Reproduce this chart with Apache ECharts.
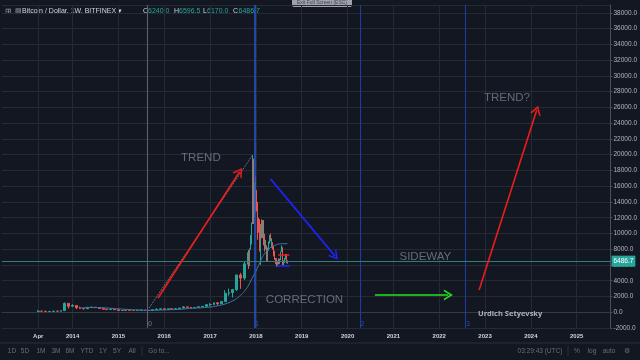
<!DOCTYPE html>
<html><head><meta charset="utf-8">
<script src="https://cdn.jsdelivr.net/npm/echarts@6/dist/echarts.min.js"></script>
<style>html,body{margin:0;padding:0;background:#131722;}#c{width:640px;height:360px;}</style>
</head><body><div id="c"></div>
<script>
// ---- data ----
// monthly candles [date, open, high, low, close]
const monthlyCandles = [
['2013-04-01',104,266,50,139],['2013-05-01',139,140,79,129],['2013-06-01',129,130,88,97],
['2013-07-01',97,110,65,106],['2013-08-01',106,140,100,141],['2013-09-01',141,145,110,133],
['2013-10-01',133,210,105,204],['2013-11-01',204,1240,200,1130],['2013-12-01',1130,1160,450,750],
['2014-01-01',750,1030,740,860],['2014-02-01',860,890,400,570],['2014-03-01',570,710,440,460],
['2014-04-01',460,550,340,445],['2014-05-01',445,630,420,630],['2014-06-01',630,680,550,640],
['2014-07-01',640,650,570,585],['2014-08-01',585,600,440,480],['2014-09-01',480,500,360,385],
['2014-10-01',385,415,275,338],['2014-11-01',338,450,320,375],['2014-12-01',375,385,310,318],
['2015-01-01',318,320,165,220],['2015-02-01',220,265,210,254],['2015-03-01',254,300,240,245],
['2015-04-01',245,260,215,236],['2015-05-01',236,247,225,230],['2015-06-01',230,267,218,263],
['2015-07-01',263,315,255,284],['2015-08-01',284,285,198,230],['2015-09-01',230,245,225,236],
['2015-10-01',236,330,236,314],['2015-11-01',314,500,300,377],['2015-12-01',377,465,350,430],
['2016-01-01',430,460,355,370],['2016-02-01',370,445,365,437],['2016-03-01',437,440,390,416],
['2016-04-01',416,465,410,450],['2016-05-01',450,550,440,530],['2016-06-01',530,780,530,675],
['2016-07-01',675,700,600,620],['2016-08-01',620,630,470,575],['2016-09-01',575,625,570,610],
['2016-10-01',610,720,600,700],['2016-11-01',700,760,690,745],['2016-12-01',745,975,745,965],
['2017-01-01',965,1150,750,970],['2017-02-01',970,1210,920,1190],['2017-03-01',1190,1300,890,1080],
['2017-04-01',1080,1400,1060,1350],['2017-05-01',1350,2800,1350,2400],['2017-06-01',2400,3000,2100,2500],
['2017-07-01',2500,2950,1850,2870],['2017-08-01',2870,4700,2700,4735],['2017-09-01',4735,5000,2970,4340],
['2017-10-01',4340,6450,4100,6150]
];
// weekly candles [date, open, high, low, close]
const weeklyCandles = [
['2017-10-30',6150,7600,6050,7380],['2017-11-06',7380,7900,5500,5950],['2017-11-13',5950,8100,5850,8050],
['2017-11-20',8050,9800,7950,9700],['2017-11-27',9700,11400,8600,11300],['2017-12-04',11300,17200,11200,15200],
['2017-12-11',15200,19900,15000,19100],['2017-12-18',19100,19500,11200,13700],['2017-12-25',13700,16500,12000,13900],
['2018-01-01',13900,17250,12800,13600],['2018-01-08',13600,15500,12800,13500],['2018-01-15',13500,14000,9200,11600],
['2018-01-22',11600,12000,10100,11200],['2018-01-29',11200,11800,7700,8200],['2018-02-05',8200,8700,6000,8500],
['2018-02-12',8500,11200,8200,10400],['2018-02-19',10400,11800,9400,9600],['2018-02-26',9600,11700,9400,11500],
['2018-03-05',11500,11700,8500,9500],['2018-03-12',9500,9950,7700,8200],['2018-03-19',8200,9200,8000,8400],
['2018-03-26',8400,8500,6500,6900],['2018-04-02',6900,7500,6400,7000],['2018-04-09',7000,8200,6600,8000],
['2018-04-16',8000,9000,7800,8900],['2018-04-23',8900,9800,8700,9300],['2018-04-30',9300,9990,9000,8700],
['2018-05-07',8700,9400,8200,8700],['2018-05-14',8700,8900,7950,8200],['2018-05-21',8200,8400,7100,7350],
['2018-05-28',7350,7800,7050,7500],['2018-06-04',7500,7780,6650,6700],['2018-06-11',6700,6900,6100,6400],
['2018-06-18',6400,6850,5750,6100],['2018-06-25',6100,6550,5800,6400],['2018-07-02',6400,6850,6100,6300],
['2018-07-09',6300,6800,6100,6700],['2018-07-16',6700,7700,6600,7700],['2018-07-23',7700,8500,7650,8200],
['2018-07-30',8200,8250,7000,7000],['2018-08-06',7000,7150,6000,6300],['2018-08-13',6300,6600,5900,6400],
['2018-08-20',6400,6900,6250,6700],['2018-08-27',6700,7400,6700,7300],['2018-09-03',7300,7400,6200,6240],
['2018-09-10',6240,6596.5,6170,6486.7]
];
// 50-week moving average
const maDates = ['2014-03-01','2014-05-01','2014-07-01','2014-09-01','2014-11-01','2015-01-01','2015-03-01',
'2015-05-01','2015-07-01','2015-09-01','2015-11-01','2016-01-01','2016-03-01','2016-05-01','2016-07-01',
'2016-09-01','2016-11-01','2017-01-01','2017-03-01','2017-05-01','2017-07-01','2017-08-01','2017-09-01',
'2017-10-01','2017-11-01','2017-12-01','2018-01-01','2018-02-01','2018-03-01','2018-04-01','2018-05-01',
'2018-06-01','2018-07-01','2018-08-01','2018-09-10'];
const maValues = [560,590,600,570,500,440,370,310,270,250,255,290,330,370,450,520,580,660,820,1050,1450,
1750,2150,2650,3350,4300,5200,6300,7200,7800,8250,8500,8650,8700,8700];

const lastOHLC = ['6240.0','6596.5','6170.0','6486.7'];
const lastPrice = 6486.7;

const xTickValues = [2013.25,2014,2015,2016,2017,2018,2019,2020,2021,2022,2023,2024,2025];
const xTickLabels = ['Apr','2014','2015','2016','2017','2018','2019','2020','2021','2022','2023','2024','2025'];

// drawn annotations (date, price)
const trendArrow = [['2015-11-13',1808],['2017-08-24',17840]];
const trendDotted = [['2015-09-02',540],['2017-12-06',19960]];
const correctionArrow = [['2018-04-28',16910],['2019-09-23',7140]];
const sidewayArrow = [['2020-08-06',2190],['2022-03-15',2190]];
const nextTrendArrow = [['2022-11-15',2820],['2024-02-17',25670]];
const redMark = [['2018-06-28',7300],['2018-09-24',7300]];
const blueMark = [['2018-06-14',5860],['2018-09-30',5860]];
const cycleLines = [['2015-08-18','0'],['2017-12-20','1'],['2020-04-08','2'],['2022-07-27','3']];
const texts = [
  ['2016-10-19',19580,'TREND'],['2019-01-23',1555,'CORRECTION'],['2021-09-13',7010,'SIDEWAY'],
  ['2023-06-25',27190,'TREND?']
];
const author = ['2023-07-20',-220,'Urdich Setyevsky'];

// ---- helpers ----
function dy(s){
  const p = s.split('-').map(Number);
  const t = Date.UTC(p[0],p[1]-1,p[2]) - Date.UTC(p[0],0,1);
  return p[0] + t/(365.25*86400000);
}
const toCandle = r => [dy(r[0]), r[1], r[4], r[3], r[2]];
const pt = a => ({coord:[dy(a[0]), a[1]]});
const chevron = 'path://M0,10 L5,0 L10,10 L8.4,10 L5,3.2 L1.6,10 Z';
function arrow(a, color, width){
  return [Object.assign(pt(a[0]),{symbol:'none', lineStyle:{color:color,width:width,type:'solid'}}),
          Object.assign(pt(a[1]),{symbol:chevron, symbolSize:[11,9]})];
}
function seg(a, color, width, type){
  return [Object.assign(pt(a[0]),{symbol:'none', lineStyle:{color:color,width:width,type:type||'solid'}}),
          Object.assign(pt(a[1]),{symbol:'none'})];
}

const X_MIN = 2014 - 71/46.09, X_MAX = 2025 + 34/46.09;
const chart = echarts.init(document.getElementById('c'), null, {renderer:'canvas'});
const upC = '#26a69a', dnC = '#ef5350';
const candleStyle = {color:upC, color0:dnC, borderColor:upC, borderColor0:dnC, borderWidth:1};
const hdrFont = 'Liberation Sans, Arial, sans-serif';

chart.setOption({
  backgroundColor:'#131722',
  animation:false,
  grid:{left:2, right:26, top:5, bottom:32},
  xAxis:{type:'value', min:X_MIN, max:X_MAX,
    axisLine:{show:true, lineStyle:{color:'#363a45'}},
    axisTick:{show:false, customValues:xTickValues},
    axisLabel:{customValues:xTickValues, color:'#d1d4dc', fontSize:6, fontWeight:'bold', margin:5,
      formatter:v=>{const i=xTickValues.findIndex(t=>Math.abs(t-v)<1e-6); return i>=0?xTickLabels[i]:'';}},
    splitLine:{show:true, lineStyle:{color:'#262a35', width:1}}
  },
  yAxis:{type:'value', position:'right', min:-2000, max:39000, interval:2000,
    axisLine:{show:true, lineStyle:{color:'#4a4e59'}},
    axisTick:{show:true, length:2, lineStyle:{color:'#4a4e59'}},
    axisLabel:{color:'#b2b5be', fontSize:6.5, margin:3, showMaxLabel:false, formatter:v=>v.toFixed(1)},
    splitLine:{show:true, lineStyle:{color:'#262a35', width:1}}
  },
  series:[
    {type:'candlestick', name:'monthly', data:monthlyCandles.map(toCandle), barWidth:2.4, itemStyle:candleStyle,
      encode:{x:0,y:[1,2,3,4]}},
    {type:'candlestick', name:'weekly', data:weeklyCandles.map(toCandle), barWidth:1.2, itemStyle:candleStyle,
      encode:{x:0,y:[1,2,3,4]}},
    {type:'line', name:'MA', data:maDates.map((d,i)=>[dy(d),maValues[i]]), smooth:true, showSymbol:false,
      lineStyle:{color:'#3f78a6', width:1}, z:3,
      markLine:{silent:true, symbol:['none','none'], animation:false, label:{show:false},
        data:[
          ...cycleLines.map((c,i)=>({xAxis:dy(c[0]), lineStyle:{color:i===0?'#5d606b':(i===1?'#2456c9':'#1b3e9c'), width:i===1?1.6:1.1, type:'solid'}})),
          {yAxis:lastPrice, lineStyle:{color:'#2f7f78', width:1, type:'solid'},
            label:{show:true, position:'end', distance:1, formatter:lastPrice.toFixed(1), color:'#fff',
              backgroundColor:'#26a69a', fontSize:6.5, padding:[2,2]}},
          seg(trendDotted,'#8a8e99',1,'dotted'),
          arrow(trendArrow,'#ee1c1c',1.6),
          arrow(correctionArrow,'#1d24ff',1.8),
          arrow(sidewayArrow,'#22e622',1.6),
          arrow(nextTrendArrow,'#ee1c1c',1.6),
          seg(redMark,'#ee1c1c',1.5),
          seg(blueMark,'#1d24ff',1.5)
        ]}
    },
    {type:'scatter', name:'notes', symbolSize:0, z:10, silent:true,
      data:[
        ...texts.map(t=>({value:[dy(t[0]),t[1]], name:t[2],
          label:{show:true, position:'inside', formatter:'{b}', color:'#7b808e', fontSize:11.5,
            fontFamily:'Liberation Sans, Arial, sans-serif'}})),
        {value:[dy(author[0]),author[1]], name:author[2],
          label:{show:true, position:'inside', formatter:'{b}', color:'#d1d4dc', fontSize:7.5, fontWeight:'bold',
            fontFamily:'Open Sans, sans-serif'}},
        ...cycleLines.map((c,i)=>({value:[dy(c[0]),-1550], name:c[1],
          label:{show:true, position:'right', distance:1, formatter:'{b}', color:i===0?'#9598a1':'#2f5fd8', fontSize:6.5}}))
      ]}
  ],
  graphic:[
    {type:'text', x:5, y:11.5, style:{text:'⊞', fill:'#9598a1', fontSize:8, verticalAlign:'middle'}},
    {type:'text', x:15, y:11.5, style:{text:'▤', fill:'#9598a1', fontSize:7, verticalAlign:'middle'}},
    {type:'text', x:22, y:11.5, style:{text:'Bitcoin / Dollar, 1W, BITFINEX ▾', fill:'#d1d4dc', fontSize:7, fontFamily:hdrFont, verticalAlign:'middle'}},
    ...[['O',143],['H',174],['L',203],['C',233]].map((k,i)=>({type:'text', x:k[1], y:11.5,
      style:{text:k[0], fill:'#d1d4dc', fontSize:7, fontFamily:hdrFont, verticalAlign:'middle'}})),
    ...[148,179,207,238.5].map((x,i)=>({type:'text', x:x, y:11.5,
      style:{text:lastOHLC[i], fill:'#26a69a', fontSize:7, fontFamily:hdrFont, verticalAlign:'middle'}})),
    {type:'rect', shape:{x:292,y:-3,width:60,height:10,r:2}, style:{fill:'#b8bbc4',opacity:0.85}},
    {type:'text', x:322, y:2.5, style:{text:'Exit Full Screen (ESC)', fill:'#434651', fontSize:5, align:'center', verticalAlign:'middle'}},
    {type:'rect', shape:{x:0,y:343,width:640,height:17}, style:{fill:'#131722'}},
    {type:'line', shape:{x1:0,y1:343,x2:640,y2:343}, style:{stroke:'#2a2e39',lineWidth:1}},
    ...[['1D',12],['5D',25],['1M',41],['3M',56],['6M',70],['YTD',87],['1Y',103],['5Y',117],['All',132],['Go to...',159],
        ['03:29:43 (UTC)',540],['%',577],['log',592],['auto',609],['⚙',627]].map(b=>({type:'text', x:b[1], y:351,
      style:{text:b[0], fill:'#6a6d78', fontSize:6.5, align:'center', verticalAlign:'middle'}})),
    {type:'line', shape:{x1:142,y1:346,x2:142,y2:356}, style:{stroke:'#2a2e39'}},
    {type:'line', shape:{x1:568,y1:346,x2:568,y2:356}, style:{stroke:'#2a2e39'}}
  ]
});
</script></body></html>
